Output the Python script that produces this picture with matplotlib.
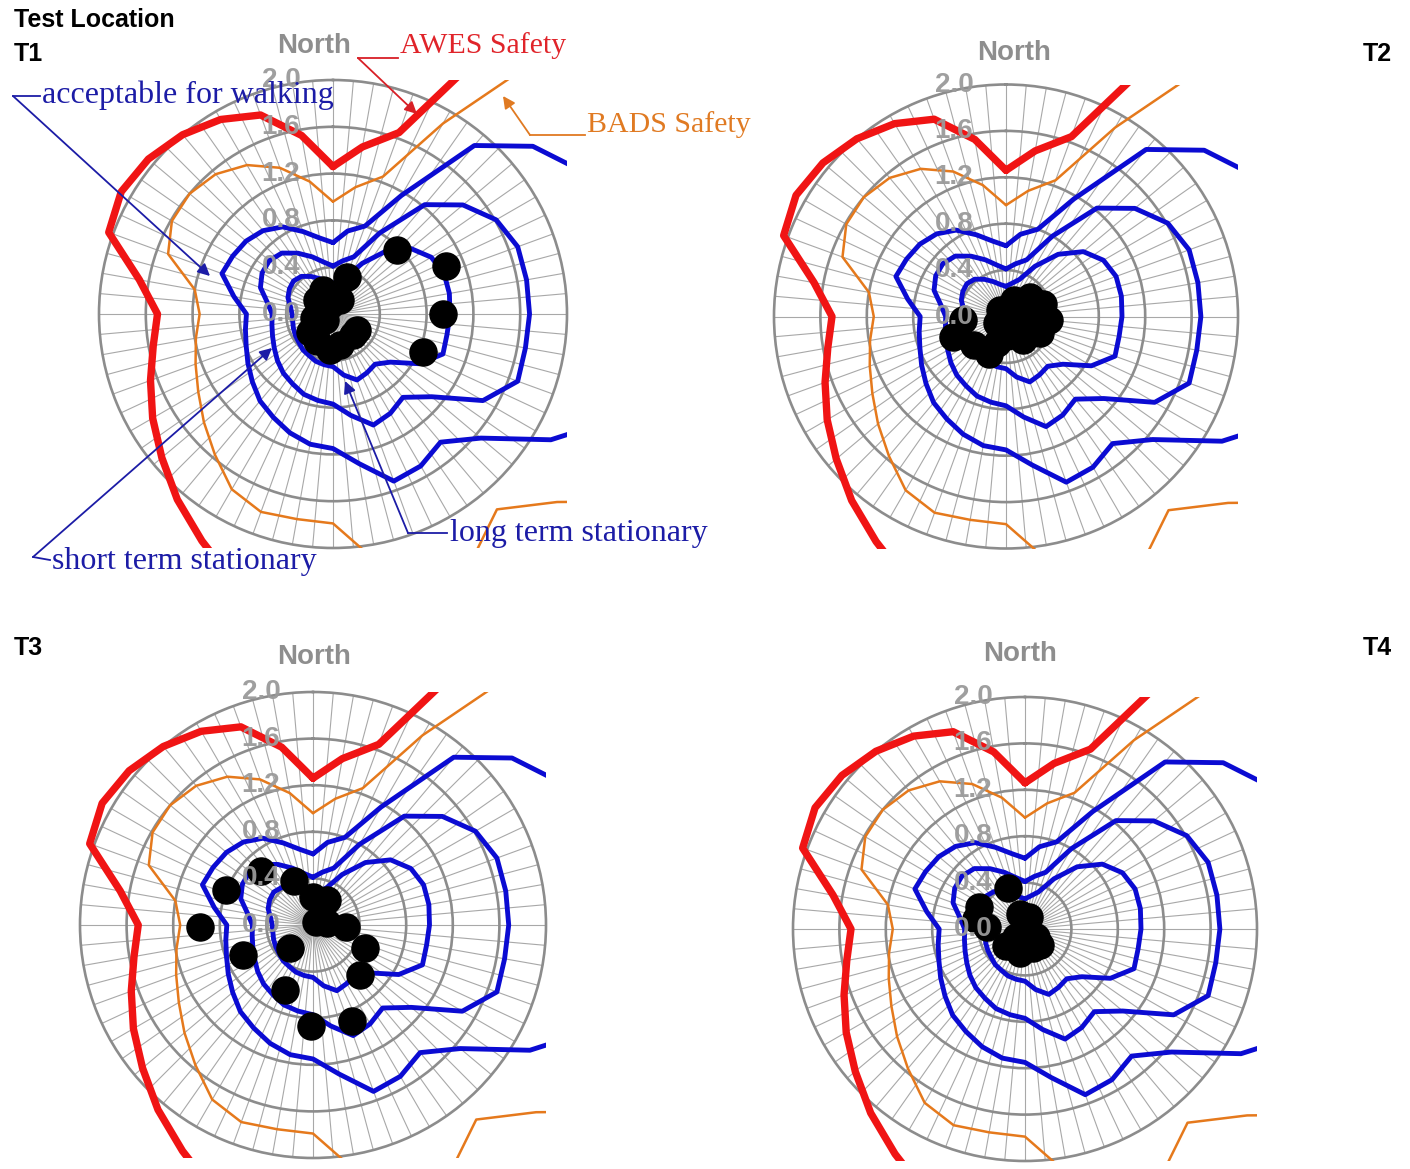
import numpy as np
import matplotlib
matplotlib.use("Agg")
import matplotlib.pyplot as plt
from matplotlib.patches import Rectangle, FancyArrowPatch
from matplotlib.lines import Line2D
from matplotlib import transforms

W, H, DPI = 1410, 1169, 100

# Wind direction (degrees clockwise from North) for the criterion curves
directions = np.arange(0, 360, 10)

# Comfort / safety threshold speed ratios per direction
awes_safety = [1.26, 1.45, 1.65, 2.60, 3.2, 3.2, 3.2, 3.2, 3.2, 3.2, 3.2, 3.2,
               3.2, 3.2, 3.2, 3.2, 3.2, 3.0, 2.8, 2.6, 2.45, 2.24, 2.07, 1.91,
               1.78, 1.66, 1.56, 1.50, 1.68, 2.04, 2.09, 2.06, 2.00, 1.92, 1.81, 1.55]
bads_safety = [0.96, 1.10, 1.25, 1.88, 3.0, 3.2, 3.2, 3.2, 3.2, 3.2, 3.2, 3.2,
               3.2, 2.50, 2.18, 2.40, 2.60, 2.15, 1.79, 1.78, 1.80, 1.73, 1.57, 1.44,
               1.33, 1.25, 1.19, 1.14, 1.20, 1.50, 1.59, 1.60, 1.56, 1.47, 1.33, 1.15]
walking = [0.61, 0.72, 0.80, 1.17, 1.88, 2.23, 2.45, 2.6, 2.6, 2.6, 2.6, 2.6,
           2.15, 1.65, 1.43, 1.50, 1.52, 1.30, 1.15, 1.13, 1.08, 1.02, 0.97, 0.90,
           0.84, 0.79, 0.76, 0.74, 0.86, 1.01, 0.99, 0.97, 0.93, 0.86, 0.75, 0.66]
short_term = [0.41, 0.46, 0.52, 0.80, 1.22, 1.45, 1.61, 1.68, 1.68, 1.68, 1.67, 1.68,
              1.48, 1.10, 0.93, 0.98, 1.01, 0.88, 0.77, 0.75, 0.73, 0.69, 0.66, 0.62,
              0.58, 0.55, 0.53, 0.52, 0.57, 0.66, 0.70, 0.71, 0.68, 0.60, 0.52, 0.45]
long_term = [0.26, 0.29, 0.34, 0.50, 0.70, 0.87, 0.97, 1.01, 1.01, 1.00, 0.99, 1.00,
             0.85, 0.64, 0.56, 0.58, 0.60, 0.53, 0.45, 0.44, 0.43, 0.41, 0.40, 0.38,
             0.37, 0.36, 0.35, 0.35, 0.37, 0.41, 0.43, 0.44, 0.42, 0.37, 0.32, 0.28]

# Measured speed ratios at each test location (direction deg, ratio)
t1_dir = [45, 67, 90, 113, 20, 338, 342, 311, 258, 232, 210, 185, 167, 136, 233, 27, 124]
t1_ratio = [0.77, 1.05, 0.94, 0.84, 0.34, 0.22, 0.08, 0.18, 0.17, 0.25, 0.27, 0.31, 0.27,
            0.25, 0.09, 0.13, 0.25]
t2_dir = [265, 249, 229, 204, 199, 317, 24, 51, 71, 95, 116, 144, 178, 234, 91, 73]
t2_ratio = [0.37, 0.49, 0.37, 0.35, 0.24, 0.08, 0.16, 0.27, 0.34, 0.37, 0.33, 0.25, 0.17,
            0.10, 0.12, 0.19]
t3_dir = [316, 292, 269, 336, 1, 29, 48, 83, 93, 114, 137, 247, 225, 203, 181, 158]
t3_ratio = [0.64, 0.81, 0.97, 0.41, 0.24, 0.25, 0.04, 0.12, 0.28, 0.49, 0.59, 0.65, 0.28,
            0.61, 0.87, 0.89]
t4_dir = [337, 296, 282, 273, 341, 28, 125, 158, 193, 227, 229, 20, 138]
t4_ratio = [0.38, 0.44, 0.43, 0.33, 0.14, 0.02, 0.12, 0.18, 0.21, 0.22, 0.10, 0.11, 0.19]

radial_ticks = [0.0, 0.4, 0.8, 1.2, 1.6, 2.0]
tick_labels = ["0.0", "0.4", "0.8", "1.2", "1.6", "2.0"]
panel_names = ["T1", "T2", "T3", "T4"]
criteria_names = ["AWES Safety", "BADS Safety", "acceptable for walking",
                  "short term stationary", "long term stationary"]

SANS = ["Liberation Sans", "DejaVu Sans"]
SERIF = ["Liberation Serif", "DejaVu Serif"]
GRID_GREY = "#8c8c8c"
SPOKE_GREY = "#a8a8a8"
LABEL_GREY = "#9a9a9a"
RED = "#f01414"
ORANGE = "#e5791c"
BLUE = "#0b0bd2"
NAVY = "#1c1ca6"


def fx(x):
    return x / W


def fy(y):
    return 1 - y / H


fig = plt.figure(figsize=(W / DPI, H / DPI), dpi=DPI)
fig.patch.set_facecolor("white")

# panel geometry: centre x, centre y (from top), radius in pixels, North label offset
panels = [
    (333, 314, 234, (-19, -268)),
    (1006, 316.5, 232, (8, -264)),
    (313, 925, 233, (1, -268)),
    (1025, 929, 232, (-5, -275)),
]
dots = [(t1_dir, t1_ratio), (t2_dir, t2_ratio), (t3_dir, t3_ratio), (t4_dir, t4_ratio)]

curves = [
    (awes_safety, RED, 5.3),
    (bads_safety, ORANGE, 1.8),
    (walking, BLUE, 3.5),
    (short_term, BLUE, 3.5),
    (long_term, BLUE, 3.5),
]

theta_closed = np.deg2rad(np.r_[directions, directions[0]])

for (cx, cy, R, (ndx, ndy)), (ddir, dval) in zip(panels, dots):
    ax = fig.add_axes([fx(cx - R), 1 - (cy + R) / H, 2 * R / W, 2 * R / H],
                      projection="polar")
    ax.set_theta_zero_location("N")
    ax.set_theta_direction(-1)
    ax.set_xticks(np.deg2rad(np.arange(0, 360, 5)))
    ax.set_xticklabels([])
    ax.set_yticks([0.4, 0.8, 1.2, 1.6])
    ax.set_yticklabels([])
    ax.tick_params(length=0)
    ax.xaxis.grid(True, color=SPOKE_GREY, lw=0.8)
    ax.yaxis.grid(True, color=GRID_GREY, lw=1.9)
    ax.spines["polar"].set_color(GRID_GREY)
    ax.spines["polar"].set_linewidth(1.9)

    # curves may run past the outer ring; clip them to the square plot area
    clip = Rectangle((0, 0), 1, 1, transform=ax.transAxes)
    for vals, color, lw in curves:
        r = np.r_[vals, vals[0]]
        ln, = ax.plot(theta_closed, r, color=color, lw=lw, zorder=3,
                      solid_joinstyle="round", solid_capstyle="round")
        ln.set_clip_path(clip)

    ax.plot(np.deg2rad(ddir), dval, "o", ms=19.5, color="black", zorder=4, clip_on=False)
    ax.set_ylim(0, 2.0)

    off = transforms.offset_copy(ax.transData, fig=fig, x=-52, y=0, units="dots")
    for v, lab in zip(radial_ticks, tick_labels):
        ax.text(0, v, lab, transform=off, ha="center", va="center", fontsize=20,
                fontweight="bold", color=LABEL_GREY, alpha=0.95, family=SANS,
                zorder=6, clip_on=False)

    fig.text(fx(cx + ndx), fy(cy + ndy), "North", ha="center", va="center",
             fontsize=20, fontweight="bold", color="#8e8e8e", family=SANS)

# location labels
fig.text(fx(14), fy(20), "Test Location", ha="left", va="center", fontsize=18,
         fontweight="bold", color="black", family=SANS)
for name, (x, y, ha) in zip(panel_names, [(14, 54, "left"), (1392, 54, "right"),
                                           (14, 648, "left"), (1392, 648, "right")]):
    fig.text(fx(x), fy(y), name, ha=ha, va="center", fontsize=18, fontweight="bold",
             color="black", family=SANS)


def connector(points, tip, color, lw=1.3):
    xs = [fx(p[0]) for p in points]
    ys = [fy(p[1]) for p in points]
    fig.add_artist(Line2D(xs, ys, transform=fig.transFigure, color=color, lw=lw))
    start = points[-1]
    fig.add_artist(FancyArrowPatch((fx(start[0]), fy(start[1])), (fx(tip[0]), fy(tip[1])),
                                   transform=fig.transFigure, arrowstyle="-|>",
                                   mutation_scale=18, lw=lw, color=color,
                                   shrinkA=0, shrinkB=0))


# criterion annotations on the first panel
fig.text(fx(400), fy(46), criteria_names[0], ha="left", va="center", fontsize=21.5,
         color="#e0242a", family=SERIF)
connector([(398, 58), (358, 58)], (417, 114), "#d81f26")

fig.text(fx(587), fy(125), criteria_names[1], ha="left", va="center", fontsize=21.5,
         color="#e07a22", family=SERIF)
connector([(585, 135), (530, 135)], (503, 96), "#e07a22")

fig.text(fx(42), fy(95), criteria_names[2], ha="left", va="center", fontsize=23,
         color=NAVY, family=SERIF)
connector([(40, 96), (13, 96)], (210, 276), NAVY)

fig.text(fx(52), fy(561), criteria_names[3], ha="left", va="center", fontsize=23,
         color=NAVY, family=SERIF)
connector([(50, 560), (33, 557)], (272, 348), NAVY)

fig.text(fx(450), fy(534), criteria_names[4], ha="left", va="center", fontsize=23,
         color=NAVY, family=SERIF)
connector([(447, 533), (408, 533)], (345, 381), NAVY)

fig.savefig("out.png", dpi=DPI, facecolor="white")
